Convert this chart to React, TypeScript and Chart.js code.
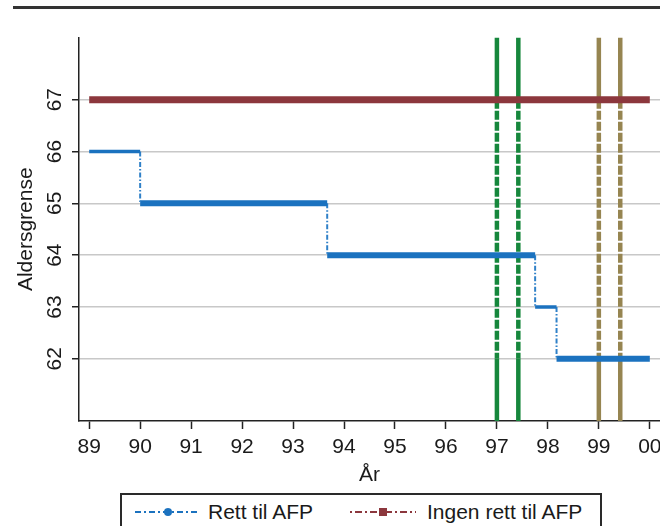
import React, { useEffect, useRef } from "react";
import { Chart, registerables } from "chart.js";

Chart.register(...registerables);

// ---- data ----
const yearTicks = [89, 90, 91, 92, 93, 94, 95, 96, 97, 98, 99, 100];
const ageTicks = [62, 63, 64, 65, 66, 67];
const rettBreaks = [89, 90, 93.67, 97.75, 98.17, 100];
const rettAges = [66, 65, 64, 63, 62];
const ingenYears = [89, 100];
const ingenAge = 67;
const greenYears = [97, 97.42];
const oliveYears = [99, 99.42];
const dashedFrom = 67;
const dashedTo = 62;

// ---- style ----
const X_MIN = 88.8;
const X_MAX = 100.2;
const Y_MIN = 60.8;
const Y_MAX = 68.2;
const BLUE = "#1b72bf";
const BLUE_DROP = "#2f80c8";
const RED = "#8c373d";
const GREEN = "#16873c";
const OLIVE = "#968551";
const FONT = "'Liberation Sans', Arial, Helvetica, sans-serif";
const TEXT = "#1a1a1a";
const stepWidths = [3.5, 6, 6, 3.5, 6];

function seg(
  pts: { x: number; y: number }[],
  color: string,
  width: number,
  dash: number[],
  order: number
) {
  return {
    label: "",
    data: pts,
    borderColor: color,
    borderWidth: width,
    borderDash: dash,
    pointRadius: 0,
    borderCapStyle: "butt" as const,
    order,
  };
}

function rettDatasets() {
  const out: any[] = [];
  for (let i = 0; i < rettAges.length; i++) {
    out.push(
      seg(
        [
          { x: rettBreaks[i], y: rettAges[i] },
          { x: rettBreaks[i + 1], y: rettAges[i] },
        ],
        BLUE,
        stepWidths[i],
        [],
        2
      )
    );
    if (i < rettAges.length - 1) {
      out.push(
        seg(
          [
            { x: rettBreaks[i + 1], y: rettAges[i] },
            { x: rettBreaks[i + 1], y: rettAges[i + 1] },
          ],
          BLUE_DROP,
          2,
          [5, 2, 1.5, 2],
          2
        )
      );
    }
  }
  return out;
}

function vline(x: number, color: string) {
  return [
    seg([{ x, y: Y_MAX }, { x, y: dashedFrom }], color, 4.5, [], 10),
    seg([{ x, y: dashedFrom }, { x, y: dashedTo }], color, 4.5, [9, 2], 10),
    seg([{ x, y: dashedTo }, { x, y: Y_MIN }], color, 4.5, [], 10),
  ];
}

export default function App() {
  const ref = useRef<HTMLCanvasElement | null>(null);

  useEffect(() => {
    if (!ref.current) return;
    const chart = new Chart(ref.current, {
      type: "line",
      data: {
        datasets: [
          seg(
            ingenYears.map((x) => ({ x, y: ingenAge })),
            RED,
            7,
            [],
            1
          ),
          ...rettDatasets(),
          ...greenYears.flatMap((x) => vline(x, GREEN)),
          ...oliveYears.flatMap((x) => vline(x, OLIVE)),
        ] as any,
      },
      options: {
        animation: false,
        responsive: false,
        maintainAspectRatio: false,
        events: [],
        layout: { padding: { top: 37.5, left: 0, right: 0, bottom: 0 } },
        plugins: {
          legend: { display: false },
          tooltip: { enabled: false },
          title: { display: false },
        },
        scales: {
          x: {
            type: "linear",
            min: X_MIN,
            max: X_MAX,
            afterBuildTicks: (s: any) => {
              s.ticks = yearTicks.map((v) => ({ value: v }));
            },
            afterFit: (s: any) => {
              s.height = 69;
              s.paddingLeft = 0;
              s.paddingRight = 0;
            },
            ticks: {
              autoSkip: false,
              maxRotation: 0,
              minRotation: 0,
              padding: 6,
              color: TEXT,
              font: { family: FONT, size: 21 },
              callback: (v: any) => String(Number(v) % 100).padStart(2, "0"),
            },
            grid: {
              drawOnChartArea: false,
              drawTicks: true,
              tickLength: 8,
              tickColor: "#222",
              tickWidth: 1.5,
            },
            border: { display: true, color: "#222", width: 1.5 },
            title: {
              display: true,
              text: "År",
              color: TEXT,
              font: { family: FONT, size: 21 },
              padding: { top: 0, bottom: 2 },
            },
          },
          y: {
            type: "linear",
            min: Y_MIN,
            max: Y_MAX,
            afterBuildTicks: (s: any) => {
              s.ticks = ageTicks.map((v) => ({ value: v }));
            },
            afterFit: (s: any) => {
              s.width = 79;
              s.paddingTop = 0;
              s.paddingBottom = 0;
            },
            ticks: {
              autoSkip: false,
              minRotation: 90,
              maxRotation: 90,
              crossAlign: "center",
              padding: 5,
              color: TEXT,
              font: { family: FONT, size: 21 },
              callback: (v: any) => String(v),
            },
            grid: {
              color: "#c8c8c8",
              lineWidth: 1.5,
              drawTicks: true,
              tickLength: 7,
              tickColor: "#222",
              tickWidth: 1.5,
            },
            border: { display: true, color: "#222", width: 1.5 },
            title: {
              display: true,
              text: "Aldersgrense",
              color: TEXT,
              font: { family: FONT, size: 21 },
              padding: { top: 14, bottom: 0 },
            },
          },
        },
      } as any,
    });
    return () => chart.destroy();
  }, []);

  const legendText: React.CSSProperties = {
    position: "absolute",
    top: 0,
    height: 34,
    lineHeight: "34px",
    fontFamily: FONT,
    fontSize: 21,
    color: TEXT,
    whiteSpace: "nowrap",
  };

  return (
    <div
      style={{
        position: "fixed",
        left: 0,
        top: 0,
        width: 660,
        height: 526,
        overflow: "hidden",
        background: "#fff",
      }}
    >
      <div
        style={{
          position: "absolute",
          left: 13,
          right: 0,
          top: 6,
          height: 3,
          background: "#333",
        }}
      />
      <canvas
        ref={ref}
        width={660}
        height={490}
        style={{ position: "absolute", left: 0, top: 0, width: 660, height: 490 }}
      />
      <div
        style={{
          position: "absolute",
          left: 120,
          top: 493,
          width: 482,
          height: 50,
          boxSizing: "border-box",
          border: "2px solid #2a2a2a",
        }}
      >
        <svg
          style={{ position: "absolute", left: 13, top: 11 }}
          width={64}
          height={12}
        >
          <line
            x1={0}
            y1={6}
            x2={64}
            y2={6}
            stroke={BLUE}
            strokeWidth={2}
            strokeDasharray="6 3 2 3"
          />
          <circle cx={33} cy={6} r={4} fill={BLUE} />
        </svg>
        <div style={{ ...legendText, left: 86 }}>Rett til AFP</div>
        <svg
          style={{ position: "absolute", left: 228, top: 11 }}
          width={66}
          height={12}
        >
          <line
            x1={0}
            y1={6}
            x2={66}
            y2={6}
            stroke={RED}
            strokeWidth={2}
            strokeDasharray="2 3 7 3"
          />
          <rect x={29} y={2} width={8} height={8} fill={RED} />
        </svg>
        <div style={{ ...legendText, left: 305 }}>Ingen rett til AFP</div>
      </div>
    </div>
  );
}
